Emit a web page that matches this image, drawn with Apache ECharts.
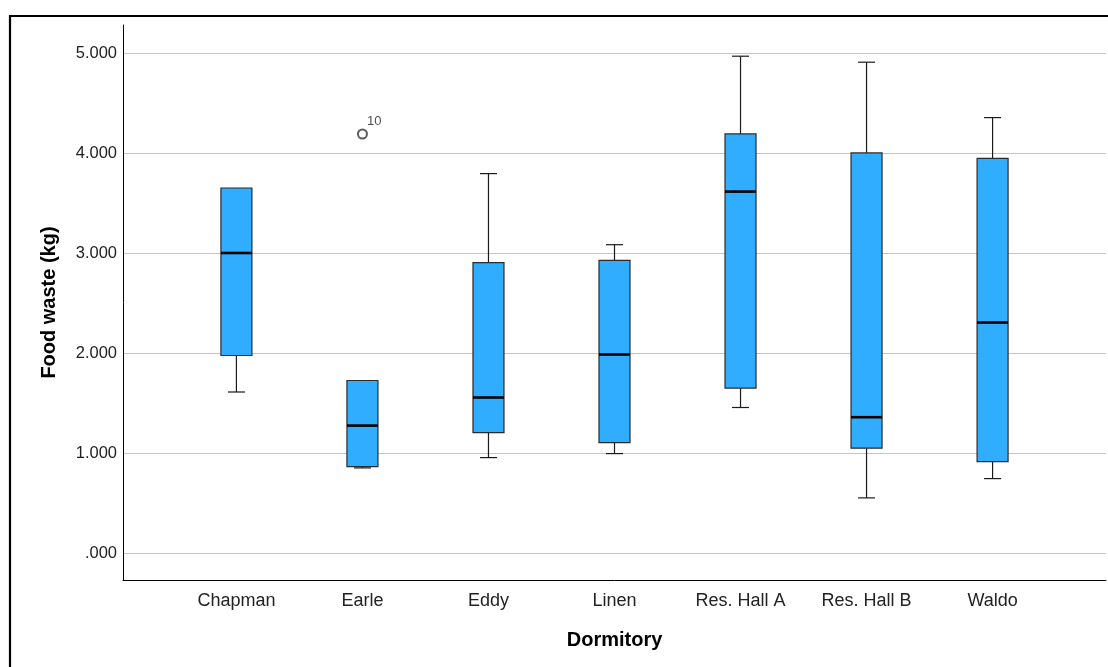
<!DOCTYPE html>
<html>
<head>
<meta charset="utf-8">
<script src="https://cdn.jsdelivr.net/npm/echarts@6/dist/echarts.min.js"></script>
<style>
  html, body { margin: 0; padding: 0; background: #fff; }
  #main { width: 1108px; height: 667px; }
</style>
</head>
<body>
<div id="main"></div>
<script>
// Dormitory food waste (kg), five-number summaries
var dorms   = ['Chapman', 'Earle', 'Eddy', 'Linen', 'Res. Hall A', 'Res. Hall B', 'Waldo'];
var lows    = [1.610, 0.851, 0.954, 0.994, 1.455, 0.551, 0.744];
var q1s     = [1.975, 0.864, 1.204, 1.104, 1.649, 1.048, 0.914];
var medians = [3.000, 1.274, 1.555, 1.985, 3.614, 1.358, 2.305];
var q3s     = [3.650, 1.725, 2.903, 2.926, 4.191, 4.001, 3.947];
var highs   = [3.650, 1.725, 3.794, 3.083, 4.968, 4.908, 4.354];

// outliers: dormitory index, value, case label
var outlierDorm  = [1];
var outlierValue = [4.19];
var outlierCase  = ['10'];

var yTicks = ['.000', '1.000', '2.000', '3.000', '4.000', '5.000'];

var boxData = dorms.map(function (d, i) {
    return [i, lows[i], q1s[i], medians[i], q3s[i], highs[i]];
});
var outData = outlierDorm.map(function (d, i) {
    return { value: [d, outlierValue[i]], caseId: outlierCase[i] };
});

var myChart = echarts.init(document.getElementById('main'));

function renderBox(params, api) {
    var x = api.value(0);
    var pLow = api.coord([x, api.value(1)]);
    var pQ1 = api.coord([x, api.value(2)]);
    var pMed = api.coord([x, api.value(3)]);
    var pQ3 = api.coord([x, api.value(4)]);
    var pHigh = api.coord([x, api.value(5)]);
    var bw = 31, cw = 17;
    var cx = pQ1[0];
    var line = { stroke: '#1a1a1a', lineWidth: 1.2 };
    var kids = [];
    kids.push({ type: 'line', shape: { x1: cx, y1: pLow[1], x2: cx, y2: pQ1[1] }, style: line });
    kids.push({ type: 'line', shape: { x1: cx, y1: pQ3[1], x2: cx, y2: pHigh[1] }, style: line });
    kids.push({ type: 'line', shape: { x1: cx - cw / 2, y1: pLow[1], x2: cx + cw / 2, y2: pLow[1] }, style: line });
    if (api.value(5) > api.value(4)) {
        kids.push({ type: 'line', shape: { x1: cx - cw / 2, y1: pHigh[1], x2: cx + cw / 2, y2: pHigh[1] }, style: line });
    }
    kids.push({
        type: 'rect',
        shape: { x: cx - bw / 2, y: pQ3[1], width: bw, height: pQ1[1] - pQ3[1] },
        style: { fill: '#31adff', stroke: '#2b2b2b', lineWidth: 1.2 }
    });
    kids.push({
        type: 'line',
        shape: { x1: cx - bw / 2, y1: pMed[1], x2: cx + bw / 2, y2: pMed[1] },
        style: { stroke: '#000', lineWidth: 2.6 }
    });
    return { type: 'group', children: kids };
}

myChart.setOption({
    animation: false,
    backgroundColor: '#fff',
    textStyle: { fontFamily: 'Liberation Sans, Arial, sans-serif' },
    graphic: [{
        type: 'rect',
        shape: { x: 10, y: 16, width: 1200, height: 800 },
        style: { fill: 'none', stroke: '#000', lineWidth: 2.2 },
        silent: true
    }],
    grid: { left: 123, right: 2, top: 25, bottom: 87 },
    xAxis: {
        type: 'value',
        min: -0.9,
        max: 6.9,
        splitNumber: 8,
        name: 'Dormitory',
        nameLocation: 'middle',
        nameGap: 50,
        nameTextStyle: { fontSize: 20, fontWeight: 'bold', color: '#000' },
        axisLine: { show: true, onZero: false, lineStyle: { color: '#000', width: 1 } },
        axisTick: { show: false },
        splitLine: { show: false },
        axisLabel: {
            showMinLabel: false,
            showMaxLabel: false,
            margin: 12,
            fontSize: 18,
            color: '#222',
            formatter: function (v) {
                return Math.abs(v - Math.round(v)) < 1e-6 ? (dorms[Math.round(v)] || '') : '';
            }
        }
    },
    yAxis: {
        type: 'value',
        min: -0.27,
        max: 5.28,
        splitNumber: 5,
        name: 'Food waste (kg)',
        nameLocation: 'middle',
        nameGap: 64,
        nameTextStyle: { fontSize: 20, fontWeight: 'bold', color: '#000' },
        axisLine: { show: true, onZero: false, lineStyle: { color: '#000', width: 1 } },
        axisTick: { show: false },
        splitLine: {
            show: true,
            showMinLine: false,
            showMaxLine: false,
            lineStyle: { color: '#c4c4c4', width: 1.2 }
        },
        axisLabel: {
            showMinLabel: false,
            showMaxLabel: false,
            margin: 6,
            fontSize: 16.5,
            color: '#222',
            formatter: function (v) {
                var i = Math.round(v);
                return Math.abs(v - i) < 1e-6 ? (yTicks[i] || '') : '';
            }
        }
    },
    series: [
        {
            type: 'custom',
            renderItem: renderBox,
            encode: { x: 0, y: [1, 2, 3, 4, 5] },
            data: boxData
        },
        {
            type: 'scatter',
            symbol: 'emptyCircle',
            symbolSize: 9,
            itemStyle: { color: '#333', borderColor: '#333', borderWidth: 1.3 },
            label: {
                show: true,
                position: [10, -14],
                fontSize: 13,
                color: '#222',
                formatter: function (p) { return p.data.caseId; }
            },
            data: outData
        }
    ]
});
</script>
</body>
</html>
